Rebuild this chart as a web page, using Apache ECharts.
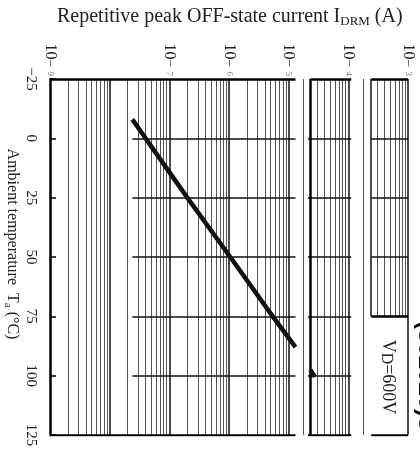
<!DOCTYPE html>
<html><head><meta charset="utf-8">
<script src="https://cdn.jsdelivr.net/npm/echarts@6/dist/echarts.min.js"></script>
<style>html,body{margin:0;padding:0;background:#fff}#c{width:420px;height:450px}</style>
</head><body><div id="c"></div>
<script>
// ---- data ----
const tempTicks = [-25, 0, 25, 50, 75, 100, 125];
const hiddenExps = [-8];                 // decade label not visible in the scan
const curveT = [-8, 0, 25, 50, 75, 88];  // ambient temperature (°C)
const curveI = [2.4e-8, 4.0e-8, 2.0e-7, 1.05e-6, 5.4e-6, 1.3e-5]; // I_DRM (A)
const tailT = [97.5, 100.5];
const tailI = [2.3e-5, 2.75e-5];
// scanned panel edges on the current axis
const panel1 = [1e-9, 1.3e-5];
const panel1HLineStart = 2.4e-8;
const panel2 = [2.1e-5, 1.12e-4];
const panel2Left = 2.33e-5;
const panel3 = [2.42e-4, 1e-3];
const panel3Bottom = 75;
const stripLines = [1.78e-5, 1.8e-4];
const decades = [-9, -8, -7, -6, -5, -4];
const mults = [1, 2, 3, 4, 5, 6, 7, 8, 9];

const serif = '"Liberation Serif", "DejaVu Serif", serif';
const Tmin = -25, Tmax = 125;

const minor = [], major = [], thick = [];
function seg(arr, x1, y1, x2, y2) { arr.push({ coords: [[x1, y1], [x2, y2]] }); }

// vertical log grid lines
decades.forEach(d => mults.forEach(k => {
  const v = k * Math.pow(10, d);
  const target = (k === 1) ? major : minor;
  if (v >= panel1[0] && v <= panel1[1]) { if (v > panel1[0]) seg(target, v, Tmin, v, Tmax); }
  else if (v > panel2Left && v <= panel2[1]) seg(target, v, Tmin, v, Tmax);
  else if (v > panel3[0] && v < panel3[1]) seg(target, v, Tmin, v, panel3Bottom);
}));
stripLines.forEach(v => seg(minor, v, Tmin, v, Tmax));
seg(thick, panel2Left, Tmin, panel2Left, Tmax);
seg(major, panel3[0], Tmin, panel3[0], panel3Bottom);
seg(major, panel3[1], Tmin, panel3[1], Tmax);

// horizontal lines
tempTicks.forEach(t => {
  if (t === Tmin || t === Tmax) {
    seg(thick, panel1[0], t, panel1[1], t);
    seg(thick, t === Tmin ? panel2Left : panel2[0], t, panel2[1], t);
    seg(thick, panel3[0], t, panel3[1], t);
  } else {
    seg(major, panel1HLineStart, t, panel1[1], t);
    seg(major, panel2[0], t, panel2[1], t);
    if (t <= panel3Bottom) seg(t === panel3Bottom ? thick : major, panel3[0], t, panel3[1], t);
  }
});

const chart = echarts.init(document.getElementById('c'), null, { renderer: 'canvas' });
chart.setOption({
  backgroundColor: '#fff',
  animation: false,
  title: {
    text: 'Repetitive peak OFF-state current I{s|DRM} (A)',
    left: 52, top: 1,
    textStyle: { fontFamily: serif, fontSize: 20, fontWeight: 'normal', color: '#222',
      rich: { s: { fontFamily: serif, fontSize: 13, color: '#222', padding: [9, 0, 0, 0] } } }
  },
  grid: { left: 50, right: 12, top: 79, bottom: 15 },
  xAxis: {
    type: 'log', logBase: 10, min: 1e-9, max: 1e-3, splitNumber: 6, position: 'top',
    axisLine: { show: false }, axisTick: { show: false },
    splitLine: { show: false }, minorTick: { show: false },
    axisLabel: {
      rotate: -90, margin: 3, color: '#222',
      formatter: v => {
        const e = Math.round(Math.log10(v));
        if (hiddenExps.indexOf(e) >= 0) return '';
        return '{b|10}{m|−}{s|' + (-e) + '}';
      },
      rich: {
        b: { fontFamily: serif, fontSize: 16, color: '#222' },
        m: { fontFamily: serif, fontSize: 14, color: '#333' },
        s: { fontFamily: serif, fontSize: 9, color: '#777', padding: [0, 0, 0, 4] }
      }
    }
  },
  yAxis: {
    type: 'value', min: Tmin, max: Tmax, interval: 25, inverse: true,
    axisLine: { show: true, lineStyle: { color: '#000', width: 2.5 } },
    axisTick: { show: true, inside: true, length: 6, lineStyle: { color: '#000', width: 1.5 } },
    splitLine: { show: false },
    axisLabel: { rotate: -90, margin: 12, fontFamily: serif, fontSize: 15, color: '#222',
      formatter: v => v < 0 ? '−' + (-v) : String(v) }
  },
  series: [
    { type: 'lines', coordinateSystem: 'cartesian2d', silent: true, z: 2,
      lineStyle: { color: '#555', width: 1, opacity: 1 }, data: minor },
    { type: 'lines', coordinateSystem: 'cartesian2d', silent: true, z: 3,
      lineStyle: { color: '#111', width: 1.5, opacity: 1 }, data: major },
    { type: 'lines', coordinateSystem: 'cartesian2d', silent: true, z: 4,
      lineStyle: { color: '#000', width: 2.5, opacity: 1 }, data: thick },
    { type: 'line', name: 'IDRM', showSymbol: false, symbol: 'none', z: 5,
      lineStyle: { color: '#111', width: 4.5 },
      data: curveT.map((t, i) => [curveI[i], t]) },
    { type: 'line', name: 'IDRM tail', showSymbol: false, symbol: 'none', z: 5,
      lineStyle: { color: '#111', width: 4.5 },
      data: tailT.map((t, i) => [tailI[i], t]) }
  ],
  graphic: [
    { type: 'text', x: 12, y: 244, rotation: -Math.PI / 2,
      style: { text: 'Ambient temperature  T{s|a} (°C)', fontFamily: serif, fontSize: 16, fill: '#222',
        align: 'center', verticalAlign: 'middle',
        rich: { s: { fontFamily: serif, fontSize: 11, fill: '#222', padding: [8, 0, 0, 0] } } } },
    { type: 'text', x: 388, y: 377, rotation: -Math.PI / 2,
      style: { text: 'V{s|D}=600V', fontFamily: serif, fontSize: 18, fill: '#222',
        align: 'center', verticalAlign: 'middle',
        rich: { s: { fontFamily: serif, fontSize: 16, fill: '#222', padding: [4, 0, 0, 0] } } } },
    { type: 'text', x: 426, y: 321, rotation: -Math.PI / 2,
      style: { text: '(302020)3', fontFamily: 'Liberation Sans, Arial, sans-serif', fontSize: 24, fontWeight: 'bold', fill: '#111',
        align: 'left', verticalAlign: 'middle' } }
  ]
});
</script></body></html>
